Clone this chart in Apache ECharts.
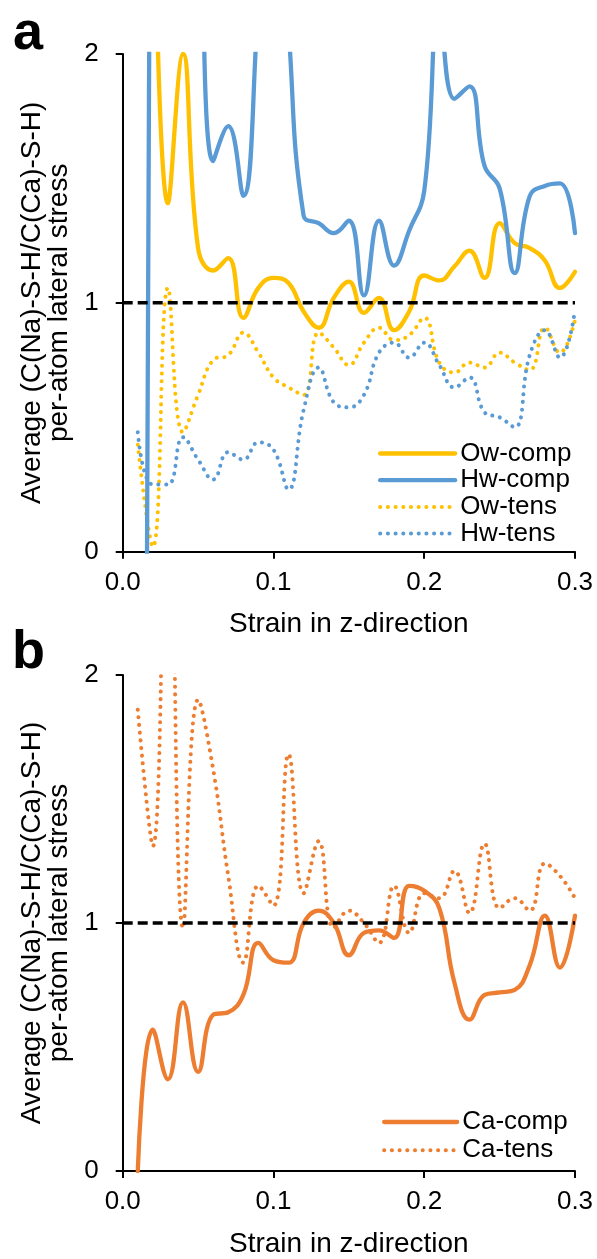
<!DOCTYPE html>
<html><head><meta charset="utf-8">
<script src="https://cdn.jsdelivr.net/npm/echarts@6/dist/echarts.min.js"></script>
<style>html,body{margin:0;padding:0;background:#fff}#c{width:597px;height:1259px}</style>
</head><body><div id="c"></div>
<script>
// strain values (x)
const strain = [0.01,0.02,0.03,0.04,0.05,0.06,0.07,0.08,0.09,0.10,0.11,0.12,0.13,0.14,0.15,0.16,0.17,0.18,0.19,0.20,0.21,0.22,0.23,0.24,0.25,0.26,0.27,0.28,0.29,0.30];
// panel a
const owComp = [null,3.0,1.40,2.0,1.22,1.13,1.18,0.94,1.06,1.10,1.08,0.965,0.90,1.02,1.085,0.96,1.02,0.89,0.965,1.11,1.09,1.146,1.21,1.10,1.32,1.24,1.22,1.17,1.06,1.125];
const hwComp = [-8.7,4.7,12.0,6.0,3.6,1.57,1.71,1.43,2.2,3.0,2.1,1.35,1.32,1.28,1.33,1.03,1.33,1.15,1.29,1.45,2.2,1.82,1.87,1.55,1.46,1.12,1.43,1.47,1.48,1.28];
const owTens = [0.43,0.02,1.06,0.48,0.63,0.77,0.79,0.88,0.80,0.70,0.66,0.63,0.88,0.82,0.75,0.84,0.90,0.85,0.87,0.94,0.76,0.72,0.76,0.74,0.80,0.76,0.73,0.90,0.80,0.93];
const hwTens = [0.48,0.27,0.27,0.46,0.37,0.29,0.40,0.37,0.44,0.41,0.25,0.57,0.74,0.60,0.58,0.63,0.80,0.84,0.78,0.84,0.75,0.66,0.70,0.56,0.54,0.50,0.79,0.89,0.78,0.97];
// panel b
const caComp = [0.0,0.57,0.37,0.68,0.40,0.63,0.64,0.71,0.92,0.85,0.84,1.00,1.05,1.00,0.87,0.96,0.97,0.94,1.15,1.13,1.06,0.76,0.61,0.71,0.72,0.73,0.83,1.03,0.82,1.03];
const caTens = [1.86,1.31,3.2,0.98,1.90,1.62,1.19,0.84,1.15,1.07,1.68,1.12,1.33,0.98,1.05,1.00,0.92,1.15,0.96,1.12,1.10,1.21,1.04,1.32,1.06,1.10,1.05,1.24,1.19,1.10];
const xTicks = ['0.0','0.1','0.2','0.3'];
const yTicks = ['0','1','2'];
const yTitle = 'Average (C(Na)-S-H/C(Ca)-S-H)\nper-atom lateral stress';
const xTitle = 'Strain in z-direction';

const FONT = 'Liberation Sans, Arial, sans-serif';
const YELLOW = '#FFC000', BLUE = '#5B9BD5', ORANGE = '#ED7D31';
function pairs(arr){ return strain.map((s,i)=>[s,arr[i]]).filter(p=>p[1]!==null); }
const DOT = {type:[0.1,7.6], cap:'round', width:4};
function ser(name, arr, color, dotted, idx){
  return {name, type:'line', xAxisIndex:idx, yAxisIndex:idx, data:pairs(arr), smooth:0.45,
    symbol:'none', showSymbol:false, clip:true, color,
    lineStyle: dotted ? Object.assign({color}, DOT) : {color, width:4.3, type:'solid', cap:'round', join:'round'},
    z: 2};
}
function refLine(idx){
  return {name:'ref'+idx, type:'line', xAxisIndex:idx, yAxisIndex:idx, data:[[0,1],[0.3,1]],
    symbol:'none', showSymbol:false, silent:true, z:5,
    lineStyle:{color:'#000', width:3.5, type:[10,5]}};
}
const axisLine = {show:true, onZero:false, lineStyle:{color:'#000', width:2}};
const axisTick = {show:true, inside:false, length:7, lineStyle:{color:'#000', width:2}};
function xAx(idx){
  return {type:'value', gridIndex:idx, min:0, max:0.3, interval:0.1, axisLine, axisTick,
    splitLine:{show:false},
    axisLabel:{margin:18, fontSize:26, color:'#000', fontFamily:FONT, formatter:(v)=>xTicks[Math.round(v*10)]},
    name:xTitle, nameLocation:'middle', nameGap:59,
    nameTextStyle:{fontSize:28, color:'#000', fontFamily:FONT}};
}
function yAx(idx){
  return {type:'value', gridIndex:idx, min:0, max:2, interval:1, axisLine, axisTick,
    splitLine:{show:false},
    axisLabel:{margin:24, fontSize:26, color:'#000', fontFamily:FONT, formatter:(v)=>yTicks[Math.round(v)]},
    name:yTitle, nameLocation:'middle', nameGap:41, nameRotate:90,
    nameTextStyle:{fontSize:28, lineHeight:27, color:'#000', fontFamily:FONT}};
}
const legendBase = {orient:'vertical', padding:0, itemHeight:2, itemStyle:{opacity:0},
  lineStyle:{width:'inherit', type:'inherit', cap:'inherit'},
  textStyle:{fontSize:26, lineHeight:26, color:'#000', fontFamily:FONT}};
const chart = echarts.init(document.getElementById('c'), null, {renderer:'canvas'});
chart.setOption({
  backgroundColor:'#fff',
  animation:false,
  grid:[
    {left:122.7, top:54, width:452.3, height:497.7},
    {left:122.7, top:675, width:452.3, height:498.3}
  ],
  xAxis:[xAx(0), xAx(1)],
  yAxis:[yAx(0), yAx(1)],
  legend:[
    Object.assign({data:['Ow-comp','Hw-comp','Ow-tens','Hw-tens'], left:378, top:440.5,
      itemWidth:75, itemGap:0.7, itemTextGap:9}, legendBase),
    Object.assign({data:['Ca-comp','Ca-tens'], left:382, top:1109,
      itemWidth:73, itemGap:2.3, itemTextGap:10}, legendBase)
  ],
  graphic:[
    {type:'text', left:13, top:7, style:{text:'a', font:'bold 54px '+FONT, fill:'#000'}},
    {type:'text', left:12, top:626, style:{text:'b', font:'bold 54px '+FONT, fill:'#000'}}
  ],
  series:[
    ser('Ow-tens', owTens, YELLOW, true, 0),
    ser('Hw-tens', hwTens, BLUE, true, 0),
    ser('Ow-comp', owComp, YELLOW, false, 0),
    ser('Hw-comp', hwComp, BLUE, false, 0),
    refLine(0),
    ser('Ca-tens', caTens, ORANGE, true, 1),
    ser('Ca-comp', caComp, ORANGE, false, 1),
    refLine(1)
  ]
});
</script></body></html>
